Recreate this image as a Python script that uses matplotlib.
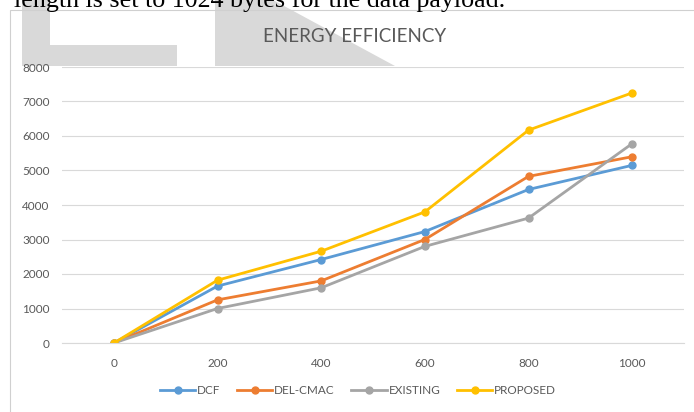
import matplotlib
matplotlib.use("Agg")
import matplotlib.pyplot as plt
from matplotlib.patches import Polygon, Rectangle

# ---- data ----
x_vals = [0, 200, 400, 600, 800, 1000]
dcf = [0, 1650, 2420, 3230, 4450, 5150]
del_cmac = [0, 1250, 1800, 3000, 4830, 5400]
existing = [0, 1000, 1600, 2800, 3620, 5780]
proposed = [0, 1820, 2660, 3800, 6170, 7250]

series_names = ["DCF", "DEL-CMAC", "EXISTING", "PROPOSED"]
series_vals = [dcf, del_cmac, existing, proposed]
colors = ["#5B9BD5", "#ED7D31", "#A5A5A5", "#FFC000"]
y_ticks = [0, 1000, 2000, 3000, 4000, 5000, 6000, 7000, 8000]

plt.rcParams["font.family"] = ["Lato", "DejaVu Sans"]

W, H = 694, 412
fig = plt.figure(figsize=(W / 100, H / 100), dpi=100)


def fx(px):
    return px / W


def fy(py):
    return 1 - py / H


# watermark shapes behind the chart
wm = "#d9d9d9"
fig.patches.append(Polygon([(fx(22), fy(0)), (fx(50), fy(0)), (fx(50), fy(45)), (fx(177), fy(45)),
                            (fx(177), fy(66)), (fx(22), fy(66))], closed=True,
                           transform=fig.transFigure, facecolor=wm, edgecolor="none", zorder=-2))
fig.patches.append(Polygon([(fx(215), fy(0)), (fx(273), fy(0)), (fx(395), fy(66)), (fx(215), fy(66))],
                           closed=True, transform=fig.transFigure, facecolor=wm, edgecolor="none", zorder=-2))

# chart frame
fig.patches.append(Rectangle((fx(10), fy(420)), fx(700), fy(10) - fy(420), transform=fig.transFigure,
                             facecolor="none", edgecolor="#d0d0d0", linewidth=0.8, zorder=-1))

# clipped line of page text above the chart
fig.text(fx(14), fy(7), "length is set to 1024 bytes for the data payload.", ha="left", va="baseline",
         fontsize=18.7, family=["Liberation Serif"], color="black")

ax = fig.add_axes([fx(62), fy(343), fx(684) - fx(62), fy(67) - fy(343)])
ax.set_facecolor("white")

for name, vals, c in zip(series_names, series_vals, colors):
    ax.plot(x_vals, vals, color=c, linewidth=2.0, marker="o", markersize=5, label=name)

ax.set_xlim(-100, 1100)
ax.set_ylim(0, 8000)
ax.set_xticks(x_vals)
ax.set_yticks(y_ticks)
ax.grid(axis="y", color="#d9d9d9", linewidth=0.8)
ax.set_axisbelow(True)
for s in ["top", "right", "left"]:
    ax.spines[s].set_visible(False)
ax.spines["bottom"].set_color("#d9d9d9")
ax.tick_params(length=0, labelsize=8.5, labelcolor="#595959")
ax.tick_params(axis="x", pad=11)
ax.tick_params(axis="y", pad=9)

fig.text(fx(355), fy(36), "ENERGY EFFICIENCY", ha="center", va="center", fontsize=13.5, color="#595959")

fig.legend(loc="center", bbox_to_anchor=(fx(358), fy(391)), ncol=4, frameon=False, fontsize=8.5,
           handlelength=3, columnspacing=1.4, handletextpad=0.15, labelcolor="#595959")

fig.savefig("out.png", dpi=100)
